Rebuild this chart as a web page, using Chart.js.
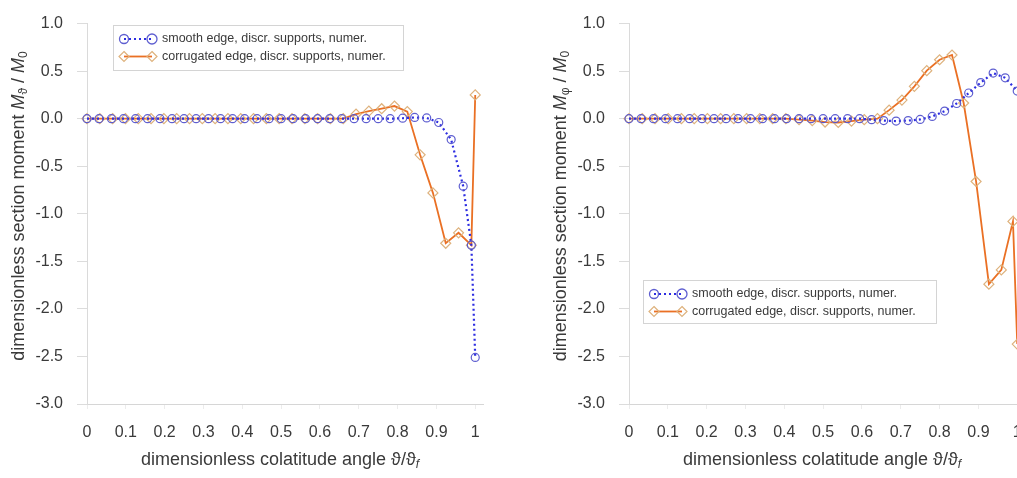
<!DOCTYPE html>
<html><head><meta charset="utf-8">
<script src="https://cdn.jsdelivr.net/npm/chart.js@4/dist/chart.umd.min.js"></script>
<style>
html,body{margin:0;padding:0;background:#fff;overflow:hidden;width:1017px;height:478px;}
#wrap{position:relative;width:1017px;height:478px;overflow:hidden;background:#fff;}
.c{position:absolute;top:0;width:500px;height:478px;}
#cl{left:0}
#cr{left:542px}
</style></head><body>
<div id="wrap">
<div class="c" id="cl"><canvas id="left" width="500" height="478"></canvas></div>
<div class="c" id="cr"><canvas id="right" width="500" height="478"></canvas></div>
</div>
<script>
// ---- tick labels ----
const xTickValues = [0, 0.1, 0.2, 0.3, 0.4, 0.5, 0.6, 0.7, 0.8, 0.9, 1];
const xTickLabels = ["0", "0.1", "0.2", "0.3", "0.4", "0.5", "0.6", "0.7", "0.8", "0.9", "1"];
const yTickValues = [1.0, 0.5, 0.0, -0.5, -1.0, -1.5, -2.0, -2.5, -3.0];
const yTickLabels = ["1.0", "0.5", "0.0", "-0.5", "-1.0", "-1.5", "-2.0", "-2.5", "-3.0"];

const seriesNames = ["smooth edge, discr. supports, numer.", "corrugated edge, discr. supports, numer."];

// ---- left chart: M_theta / M_0 ----
const leftSmoothX = [0, 0.031, 0.063, 0.094, 0.125, 0.156, 0.188, 0.219, 0.25, 0.281, 0.313, 0.344, 0.375, 0.406, 0.438, 0.469, 0.5, 0.531, 0.563, 0.594, 0.625, 0.656, 0.688, 0.719, 0.75, 0.781, 0.813, 0.844, 0.875, 0.906, 0.938, 0.969, 0.99, 1.0];
const leftSmoothY = [0, 0, 0, 0, 0, 0, 0, 0, 0, 0, 0, 0, 0, 0, 0, 0, 0, 0, 0, 0, 0, 0, 0, 0, 0, 0, 0.005, 0.013, 0.008, -0.04, -0.22, -0.71, -1.33, -2.51];
const leftCorrX = [0, 0.033, 0.066, 0.099, 0.132, 0.165, 0.198, 0.231, 0.264, 0.297, 0.33, 0.363, 0.396, 0.429, 0.462, 0.495, 0.528, 0.561, 0.594, 0.627, 0.66, 0.693, 0.726, 0.759, 0.792, 0.825, 0.858, 0.891, 0.924, 0.957, 0.99, 1.0];
const leftCorrY = [0, 0, 0, 0, 0, 0, 0, 0, 0, 0, 0, 0, 0, 0, 0, 0, 0, 0, 0, 0, 0.0, 0.048, 0.08, 0.105, 0.133, 0.075, -0.38, -0.78, -1.31, -1.2, -1.33, 0.25];

// ---- right chart: M_phi / M_0 ----
const rightSmoothX = [0, 0.031, 0.063, 0.094, 0.125, 0.156, 0.188, 0.219, 0.25, 0.281, 0.313, 0.344, 0.375, 0.406, 0.438, 0.469, 0.5, 0.531, 0.563, 0.594, 0.625, 0.656, 0.688, 0.719, 0.75, 0.781, 0.813, 0.844, 0.875, 0.906, 0.938, 0.969, 1.0];
const rightSmoothY = [0, 0, 0, 0, 0, 0, 0, 0, 0, 0, 0, 0, 0, 0, 0, 0, 0, 0, 0, 0, -0.01, -0.02, -0.025, -0.02, -0.008, 0.024, 0.08, 0.16, 0.27, 0.38, 0.48, 0.43, 0.29];
const rightCorrX = [0, 0.034, 0.067, 0.101, 0.135, 0.168, 0.202, 0.236, 0.27, 0.303, 0.337, 0.37, 0.404, 0.438, 0.472, 0.505, 0.539, 0.573, 0.606, 0.64, 0.67, 0.703, 0.735, 0.767, 0.8, 0.832, 0.862, 0.894, 0.927, 0.959, 0.989, 1.0];
const rightCorrY = [0, 0, 0, 0, 0, 0, 0, 0, 0, 0, 0, 0, 0, -0.01, -0.02, -0.035, -0.04, -0.025, -0.01, 0.0, 0.09, 0.196, 0.34, 0.505, 0.62, 0.67, 0.165, -0.66, -1.74, -1.59, -1.08, -2.37];

const FONT = "'Liberation Sans', Arial, Helvetica, sans-serif";
const BLUE_LINE = "rgb(45,45,225)";
const BLUE_PT = "rgba(85,85,205,0.95)";
const ORANGE_LINE = "rgb(234,112,36)";
const ORANGE_PT = "rgb(222,178,125)";
const TEXT = "#3a3a3a";

function pts(xs, ys) { return xs.map((x, i) => ({ x: x, y: ys[i] })); }

function drawRich(ctx, segs, cx, cy, rotate) {
  ctx.save();
  ctx.translate(cx, cy);
  if (rotate) ctx.rotate(-Math.PI / 2);
  let total = 0;
  segs.forEach(s => { ctx.font = s.font; s.w = ctx.measureText(s.t).width; total += s.w; });
  let x = -total / 2;
  ctx.textBaseline = 'middle';
  ctx.textAlign = 'left';
  ctx.fillStyle = TEXT;
  segs.forEach(s => { ctx.font = s.font; ctx.fillText(s.t, x, s.dy || 0); x += s.w; });
  ctx.restore();
}

function drawMarker(ctx, style, x, y, r, color, lw) {
  ctx.save();
  ctx.strokeStyle = color; ctx.lineWidth = lw; ctx.setLineDash([]);
  ctx.beginPath();
  if (style === 'circle') {
    ctx.arc(x, y, r, 0, Math.PI * 2);
  } else {
    ctx.moveTo(x, y - r); ctx.lineTo(x + r, y); ctx.lineTo(x, y + r); ctx.lineTo(x - r, y); ctx.closePath();
  }
  ctx.stroke();
  ctx.restore();
}

const decorPlugin = {
  id: 'decor',
  afterDraw(chart, args, opts) {
    const ctx = chart.ctx;
    const ca = chart.chartArea;
    const base = '18px ' + FONT, ital = 'italic 18px ' + FONT, sub = '12px ' + FONT, subI = 'italic 12px ' + FONT;
    // y title
    drawRich(ctx, [
      { t: 'dimensionless section moment ', font: base },
      { t: 'M', font: ital },
      { t: opts.sub, font: sub, dy: 5 },
      { t: ' / ', font: base },
      { t: 'M', font: ital },
      { t: '0', font: sub, dy: 5 }
    ], 19, 206, true);
    // x title
    drawRich(ctx, [
      { t: 'dimensionless colatitude angle \u03D1/\u03D1', font: base },
      { t: 'f', font: subI, dy: 5 }
    ], (ca.left - 10 + ca.right) / 2, 460, false);
    // legend
    const b = opts.box;
    ctx.save();
    ctx.fillStyle = '#ffffff';
    ctx.fillRect(b.x, b.y, b.w, b.h);
    ctx.strokeStyle = '#d4d4d4'; ctx.lineWidth = 1;
    ctx.strokeRect(b.x + 0.5, b.y + 0.5, b.w, b.h);
    const r1 = b.y + 14, r2 = b.y + 31.5;
    const m1 = b.x + 11, m2 = b.x + 39;
    // row 1 blue dotted
    ctx.strokeStyle = BLUE_LINE; ctx.lineWidth = 2; ctx.setLineDash([2, 3]);
    ctx.beginPath(); ctx.moveTo(m1, r1); ctx.lineTo(m2, r1); ctx.stroke();
    ctx.setLineDash([]);
    drawMarker(ctx, 'circle', m1, r1, 4.5, BLUE_PT, 1.3);
    drawMarker(ctx, 'circle', m2, r1, 5, BLUE_PT, 1.3);
    // row 2 orange
    ctx.strokeStyle = ORANGE_LINE; ctx.lineWidth = 1.8;
    ctx.beginPath(); ctx.moveTo(m1, r2); ctx.lineTo(m2, r2); ctx.stroke();
    drawMarker(ctx, 'diamond', m1, r2, 5, ORANGE_PT, 1.2);
    drawMarker(ctx, 'diamond', m2, r2, 5, ORANGE_PT, 1.2);
    ctx.fillStyle = TEXT; ctx.font = '12.5px ' + FONT; ctx.textBaseline = 'middle'; ctx.textAlign = 'left';
    ctx.fillText(seriesNames[0], b.x + 49, r1);
    ctx.fillText(seriesNames[1], b.x + 49, r2);
    ctx.restore();
  }
};

function makeChart(id, sx, sy, cx, cy, sub, box) {
  return new Chart(document.getElementById(id), {
    type: 'scatter',
    data: {
      datasets: [
        {
          label: seriesNames[0], data: pts(sx, sy), showLine: true, clip: false,
          borderColor: BLUE_LINE, borderWidth: 2.2, borderDash: [2, 3],
          pointStyle: 'circle', pointRadius: 4, pointBorderColor: BLUE_PT,
          pointBackgroundColor: 'rgba(255,255,255,0)', pointBorderWidth: 1.2
        },
        {
          label: seriesNames[1], data: pts(cx, cy), showLine: true, clip: false,
          borderColor: ORANGE_LINE, borderWidth: 1.8,
          pointStyle: 'rectRot', pointRadius: 5, pointBorderColor: ORANGE_PT,
          pointBackgroundColor: 'rgba(255,255,255,0)', pointBorderWidth: 1.2
        }
      ]
    },
    options: {
      responsive: false, animation: false, devicePixelRatio: 1,
      layout: { padding: { top: 16, right: 17, left: 0, bottom: 0 } },
      plugins: { legend: { display: false }, tooltip: { enabled: false }, decor: { sub: sub, box: box } },
      scales: {
        x: {
          type: 'linear', min: 0, max: 1.02,
          afterFit(s) { s.height = 74; },
          afterBuildTicks(s) { s.ticks = xTickValues.map(v => ({ value: v })); },
          grid: { drawOnChartArea: false, drawTicks: true, tickLength: 5, tickColor: '#ececec' },
          border: { display: true, color: '#d6d6d6', width: 1 },
          ticks: { padding: 14, color: TEXT, font: { family: FONT, size: 16 }, maxRotation: 0,
            callback: (v) => { const i = xTickValues.indexOf(v); return i >= 0 ? xTickLabels[i] : ''; } }
        },
        y: {
          type: 'linear', min: -3, max: 1,
          afterFit(s) { s.width = 87; },
          afterBuildTicks(s) { s.ticks = yTickValues.map(v => ({ value: v })); },
          grid: { drawOnChartArea: false, drawTicks: true, tickLength: 10, tickColor: '#dcdcdc' },
          border: { display: true, color: '#dadada', width: 1 },
          ticks: { padding: 14, color: TEXT, font: { family: FONT, size: 16 },
            callback: (v) => { const i = yTickValues.indexOf(v); return i >= 0 ? yTickLabels[i] : ''; } }
        }
      }
    },
    plugins: [decorPlugin]
  });
}

makeChart('left', leftSmoothX, leftSmoothY, leftCorrX, leftCorrY, '\u03D1', { x: 113, y: 25, w: 290, h: 45 });
makeChart('right', rightSmoothX, rightSmoothY, rightCorrX, rightCorrY, '\u03C6', { x: 101, y: 280, w: 293, h: 43 });
</script>
</body></html>
